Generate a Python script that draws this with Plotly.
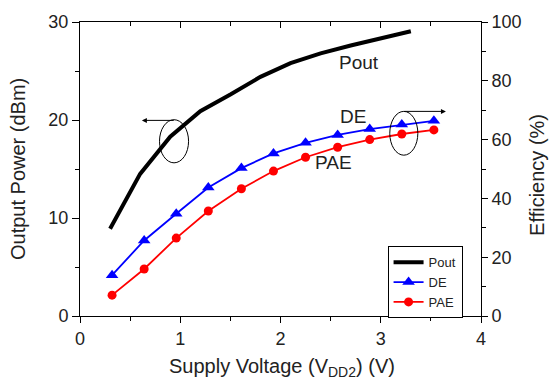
import plotly.graph_objects as go

# ---- data ----
pout_v = [0.3, 0.6, 0.9, 1.2, 1.5, 1.8, 2.1, 2.4, 2.7, 3.0, 3.3]
pout_dbm = [8.9, 14.5, 18.3, 20.9, 22.6, 24.4, 25.8, 26.8, 27.6, 28.3, 29.05]

eff_v = [0.32, 0.64, 0.96, 1.28, 1.61, 1.93, 2.25, 2.57, 2.89, 3.21, 3.53]
de = [13.9, 25.7, 34.8, 43.7, 50.3, 55.3, 58.9, 61.6, 63.6, 65.1, 66.4]
pae = [7.1, 16.0, 26.5, 35.7, 43.3, 49.3, 54.0, 57.4, 60.0, 61.9, 63.3]

x_ticks = [0, 1, 2, 3, 4]
y1_ticks = [0, 10, 20, 30]
y2_ticks = [0, 20, 40, 60, 80, 100]

FONT = "Arial, 'Liberation Sans', sans-serif"

fig = go.Figure()
fig.add_trace(go.Scatter(x=pout_v, y=pout_dbm, mode="lines", name="Pout",
                         line=dict(color="black", width=4)))
fig.add_trace(go.Scatter(x=eff_v, y=de, mode="lines+markers", name="DE", yaxis="y2",
                         line=dict(color="#0000FF", width=1.8),
                         marker=dict(symbol="triangle-up", size=11, color="#0000FF")))
fig.add_trace(go.Scatter(x=eff_v, y=pae, mode="lines+markers", name="PAE", yaxis="y2",
                         line=dict(color="#FF0000", width=1.8),
                         marker=dict(symbol="circle", size=9, color="#FF0000")))
# dummy trace to show top axis with inward ticks
fig.add_trace(go.Scatter(x=[None], y=[None], xaxis="x3", showlegend=False, hoverinfo="skip"))

axis_common = dict(showline=True, linecolor="black", linewidth=1, showgrid=False,
                   zeroline=False, tickcolor="black", tickwidth=1,
                   tickfont=dict(family=FONT, size=18, color="#222"))

fig.update_layout(
    width=549, height=379,
    margin=dict(l=80, r=68, t=20, b=63),
    paper_bgcolor="white", plot_bgcolor="white",
    font=dict(family=FONT, color="#222"),
    showlegend=True,
    legend=dict(x=0.767, y=0.2375, xanchor="left", yanchor="top",
                bordercolor="black", borderwidth=1, bgcolor="white",
                font=dict(family=FONT, size=13, color="#222"),
                tracegroupgap=0),
    xaxis=dict(range=[0, 4], tickvals=x_ticks, ticks="outside", ticklen=6,
               minor=dict(dtick=0.5, ticks="outside", ticklen=4, tickcolor="black"),
               **axis_common),
    xaxis3=dict(range=[0, 4], overlaying="x", side="top", anchor="y",
                tickvals=x_ticks, ticks="inside", ticklen=6, showticklabels=False,
                minor=dict(dtick=0.5, ticks="inside", ticklen=4, tickcolor="black"),
                **axis_common),
    yaxis=dict(range=[0, 30], tickvals=y1_ticks, ticks="outside", ticklen=7,
               minor=dict(dtick=5, ticks="outside", ticklen=4, tickcolor="black"),
               **axis_common),
    yaxis2=dict(range=[0, 100], tickvals=y2_ticks, ticks="outside", ticklen=6,
                overlaying="y", side="right",
                minor=dict(dtick=10, ticks="outside", ticklen=4, tickcolor="black"),
                **axis_common),
)

# axis titles
fig.add_annotation(text="Output Power (dBm)", xref="paper", yref="paper",
                   x=-0.1546, y=0.5, xanchor="center", yanchor="middle",
                   textangle=-90, showarrow=False,
                   font=dict(family=FONT, size=20, color="#222"))
fig.add_annotation(text="Efficiency (%)", xref="paper", yref="paper",
                   x=1.1397, y=0.48, xanchor="center", yanchor="middle",
                   textangle=-90, showarrow=False,
                   font=dict(family=FONT, size=20, color="#222"))
fig.add_annotation(text="Supply Voltage (V<sub>DD2</sub>) (V)", xref="paper", yref="paper",
                   x=0.5025, y=-0.176, xanchor="center", yanchor="middle",
                   showarrow=False,
                   font=dict(family=FONT, size=20, color="#222"))

# curve labels
fig.add_annotation(text="Pout", x=2.78, y=25.9, xref="x", yref="y", showarrow=False,
                   font=dict(family=FONT, size=19, color="#222"))
fig.add_annotation(text="DE", x=2.72, y=67.9, xref="x", yref="y2", showarrow=False,
                   font=dict(family=FONT, size=19, color="#222"))
fig.add_annotation(text="PAE", x=2.53, y=52.1, xref="x", yref="y2", showarrow=False,
                   font=dict(family=FONT, size=19, color="#222"))

# ellipses
fig.add_shape(type="circle", xref="x", yref="y", x0=0.793, x1=1.083, y0=15.63, y1=20.03,
              line=dict(color="black", width=1))
fig.add_shape(type="circle", xref="x", yref="y2", x0=3.09, x1=3.37, y0=54.7, y1=69.6,
              line=dict(color="black", width=1))

# arrows
fig.add_annotation(x=0.617, y=19.96, ax=0.95, ay=19.96, xref="x", yref="y",
                   axref="x", ayref="y", showarrow=True, arrowhead=2, arrowsize=1,
                   arrowwidth=1, arrowcolor="black", text="")
fig.add_annotation(x=3.65, y=69.6, ax=3.22, ay=69.6, xref="x", yref="y2",
                   axref="x", ayref="y2", showarrow=True, arrowhead=2, arrowsize=1,
                   arrowwidth=1, arrowcolor="black", text="")

fig.write_html("out.html", config={"displayModeBar": False},
               post_script="document.body.style.margin='0';document.body.style.overflow='hidden';")
